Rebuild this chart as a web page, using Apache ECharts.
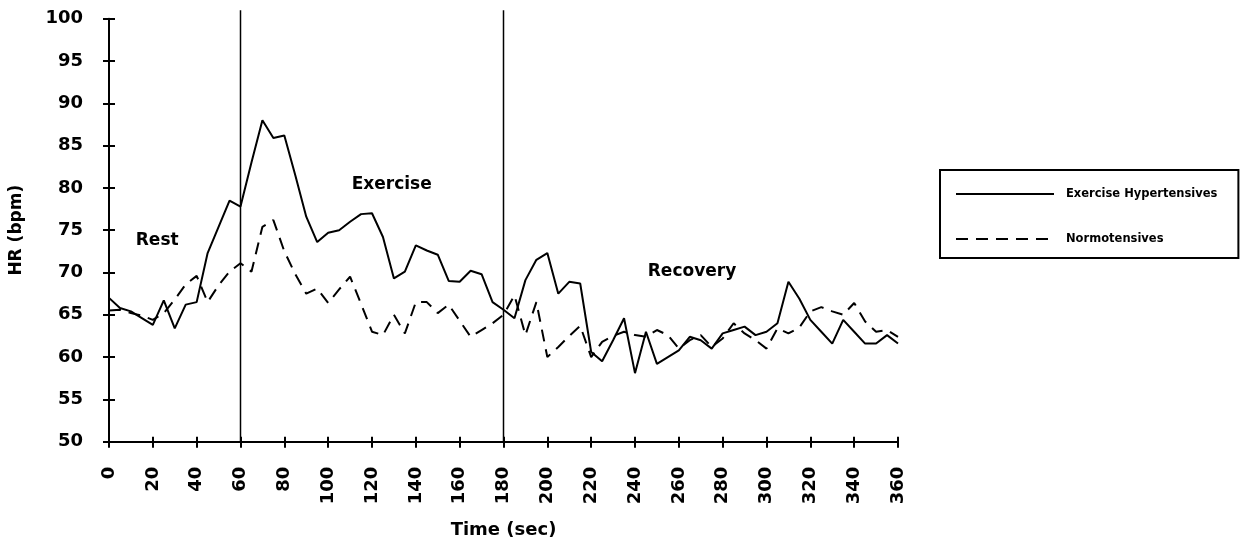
<!DOCTYPE html>
<html>
<head>
<meta charset="utf-8">
<script src="https://cdn.jsdelivr.net/npm/echarts@6/dist/echarts.min.js"></script>
<style>
html, body { margin: 0; background: #fff; }
#chart { width: 1243px; height: 552px; }
</style>
</head>
<body>
<div id="chart"></div>
<script>
// time (sec), one reading every 5 s
const times = [
  0, 5, 10, 15, 20, 25, 30, 35, 40, 45, 50, 55,
  60, 65, 70, 75, 80, 85, 90, 95, 100, 105, 110, 115,
  120, 125, 130, 135, 140, 145, 150, 155, 160, 165, 170, 175,
  180, 185, 190, 195, 200, 205, 210, 215, 220, 225, 230, 235,
  240, 245, 250, 255, 260, 265, 270, 275, 280, 285, 290, 295,
  300, 305, 310, 315, 320, 325, 330, 335, 340, 345, 350, 355,
  360
]
const hypertensives = [
  67.0, 65.8, 65.4, 64.6, 63.8, 66.7, 63.4, 66.2, 66.5, 72.3, 75.4, 78.5,
  77.8, 83.0, 88.0, 85.9, 86.2, 81.5, 76.6, 73.6, 74.7, 75.0, 76.0, 76.9,
  77.0, 74.2, 69.3, 70.1, 73.2, 72.6, 72.1, 69.0, 68.9, 70.2, 69.8, 66.5,
  65.6, 64.6, 69.1, 71.5, 72.3, 67.5, 68.9, 68.7, 60.6, 59.5, 62.0, 64.6,
  58.1, 63.0, 59.2, 60.0, 60.8, 62.4, 62.0, 61.0, 62.8, 63.2, 63.6, 62.6,
  63.0, 64.0, 68.9, 66.9, 64.4, 63.0, 61.6, 64.4, 63.0, 61.6, 61.6, 62.6,
  61.6
]
const normotensives = [
  65.5, 65.6, 65.2, 64.9, 64.4, 65.2, 66.8, 68.6, 69.6, 66.5, 68.5, 70.1,
  71.1, 70.1, 75.4, 76.2, 72.5, 69.8, 67.5, 68.1, 66.4, 68.0, 69.5, 66.3,
  63.0, 62.6, 65.0, 62.8, 66.5, 66.5, 65.2, 66.2, 64.3, 62.4, 63.2, 64.0,
  65.0, 67.3, 62.6, 66.5, 60.0, 61.2, 62.5, 63.7, 60.0, 61.8, 62.5, 63.0,
  62.6, 62.4, 63.2, 62.6, 61.0, 62.0, 62.6, 61.2, 62.2, 64.0, 62.8, 62.0,
  61.0, 63.4, 62.8, 63.5, 65.4, 65.9, 65.4, 65.0, 66.4, 64.2, 63.0, 63.2,
  62.4
]
const seriesNames = ['Exercise Hypertensives', 'Normotensives']
const phaseBounds = [60, 180]
const phaseNames = ['Rest', 'Exercise', 'Recovery']
const phaseLabelAt = [[22, 73.8], [129, 80.4], [266, 70.1]]

const font = 'DejaVu Sans'
const tickFont = { color: '#000', fontFamily: font, fontWeight: 'bold', fontSize: 18 }
const chart = echarts.init(document.getElementById('chart'))

const pairs = (ys) => times.map((t, i) => [t, ys[i]])

const boundSeries = phaseBounds.map((b) => ({
  type: 'line',
  data: [[b, 50], [b, 101]],
  symbol: 'none',
  clip: false,
  silent: true,
  z: 1,
  lineStyle: { color: '#000', width: 1.5 }
}))

const options = {
  animation: false,
  grid: { left: 108, right: 345, top: 18.7, bottom: 110.3 },
  legend: {
    data: seriesNames,
    orient: 'vertical',
    left: 940,
    top: 170,
    itemWidth: 98,
    itemHeight: 14,
    itemGap: 33,
    padding: [18, 21, 13, 15],
    borderColor: '#000',
    borderWidth: 2,
    itemStyle: { opacity: 0 },
    textStyle: { color: '#000', fontFamily: font, fontWeight: 'bold', fontSize: 11.5, padding: [0, 0, 0, 7] }
  },
  xAxis: [{
    type: 'value',
    min: 0,
    max: 360,
    interval: 20,
    name: 'Time (sec)',
    nameLocation: 'middle',
    nameGap: 80,
    nameTextStyle: { color: '#000', fontFamily: font, fontWeight: 'bold', fontSize: 18 },
    axisLine: { lineStyle: { color: '#000', width: 2 } },
    axisTick: { length: 6, lineStyle: { color: '#000', width: 2 } },
    axisLabel: Object.assign({ rotate: 90, margin: 25 }, tickFont),
    splitLine: { show: false }
  }, {
    type: 'value',
    min: 0,
    max: 360,
    interval: 20,
    position: 'bottom',
    axisLine: { show: false },
    axisTick: { inside: true, length: 5, lineStyle: { color: '#000', width: 2 } },
    axisLabel: { show: false },
    splitLine: { show: false }
  }],
  yAxis: [{
    type: 'value',
    min: 50,
    max: 100,
    interval: 5,
    name: 'HR (bpm)',
    nameLocation: 'middle',
    nameGap: 84,
    nameTextStyle: { color: '#000', fontFamily: font, fontWeight: 'bold', fontSize: 17 },
    axisLine: { show: true, lineStyle: { color: '#000', width: 2 } },
    axisTick: { show: true, length: 6, lineStyle: { color: '#000', width: 2 } },
    axisLabel: Object.assign({ margin: 26 }, tickFont),
    splitLine: { show: false }
  }, {
    type: 'value',
    min: 50,
    max: 100,
    interval: 5,
    position: 'left',
    axisLine: { show: false },
    axisTick: { show: true, inside: true, length: 6, lineStyle: { color: '#000', width: 2 } },
    axisLabel: { show: false },
    splitLine: { show: false }
  }],
  series: [{
    name: seriesNames[0],
    type: 'line',
    data: pairs(hypertensives),
    symbol: 'none',
    z: 3,
    lineStyle: { color: '#000', width: 2 },
    itemStyle: { color: '#000' }
  }, {
    name: seriesNames[1],
    type: 'line',
    data: pairs(normotensives),
    symbol: 'none',
    z: 3,
    lineStyle: { color: '#000', width: 2, type: [12, 8] },
    itemStyle: { color: '#000' }
  }, {
    type: 'scatter',
    data: phaseNames.map((n, i) => ({ name: n, value: phaseLabelAt[i] })),
    symbolSize: 0,
    silent: true,
    itemStyle: { color: '#000', opacity: 1 },
    label: {
      show: true,
      position: 'inside',
      formatter: '{b}',
      color: '#000',
      textBorderWidth: 0,
      fontFamily: font,
      fontWeight: 'bold',
      fontSize: 17
    }
  }].concat(boundSeries)
}
chart.setOption(options)
</script>
</body>
</html>
